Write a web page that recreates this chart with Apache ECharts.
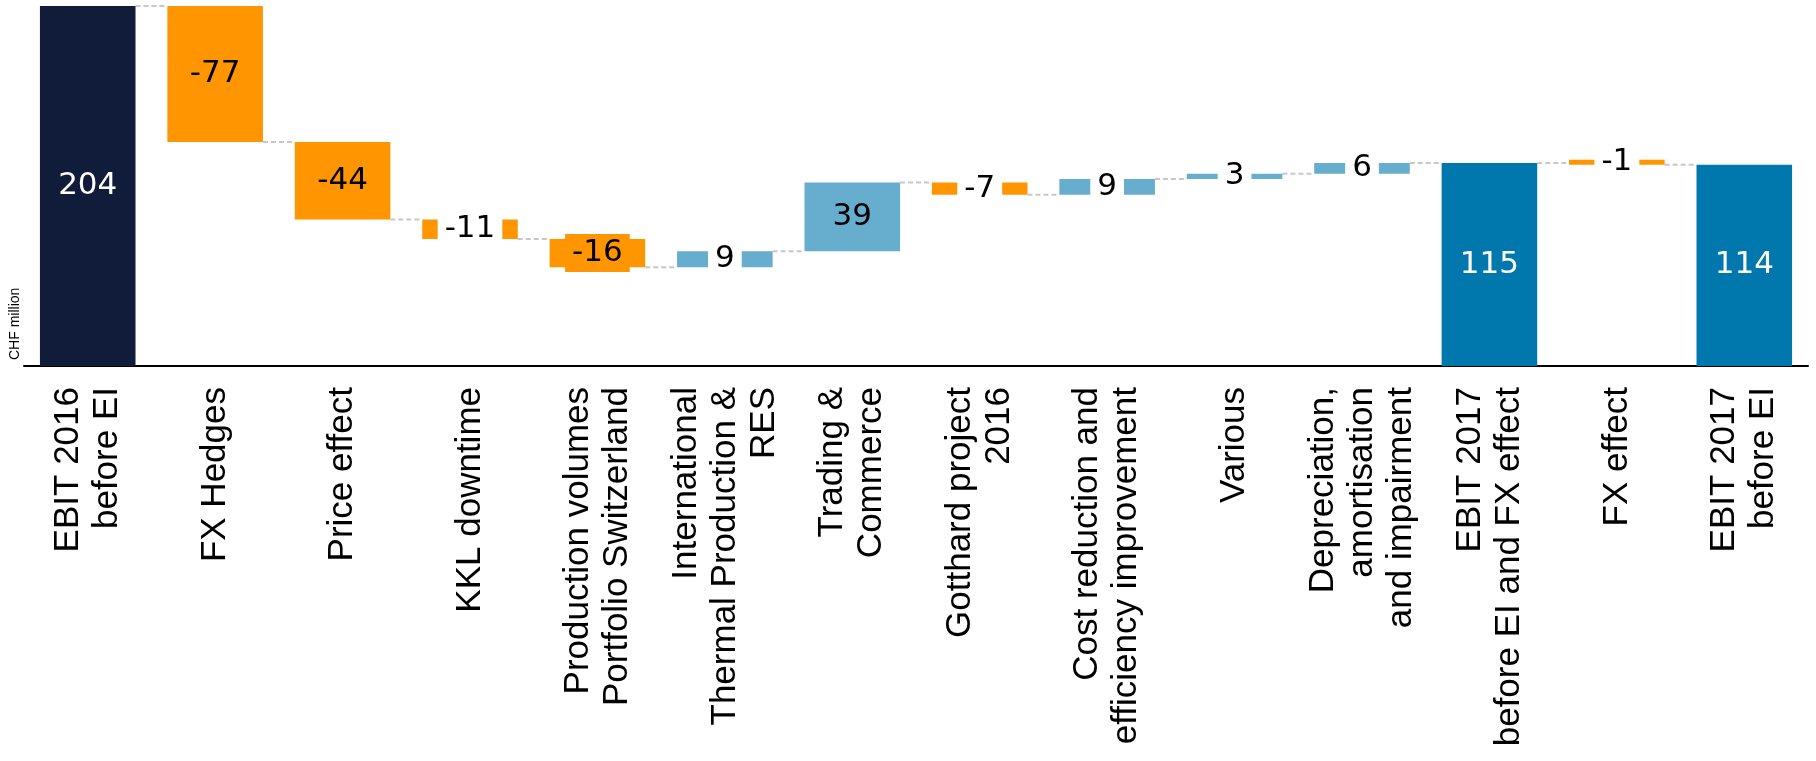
<!DOCTYPE html>
<html>
<head>
<meta charset="UTF-8">
<title>EBIT bridge</title>
<script src="https://cdn.jsdelivr.net/npm/echarts@6/dist/echarts.min.js"></script>
<style>
html,body{margin:0;padding:0;background:#fff}
#bridge{width:1816px;height:761px}
</style>
</head>
<body>
<div id="bridge"></div>
<script type="text/javascript">
// categories along the bridge
var categories = [
	'EBIT 2016\nbefore EI',
	'FX Hedges',
	'Price effect',
	'KKL downtime',
	'Production volumes\nPortfolio Switzerland',
	'International\nThermal Production &\nRES',
	'Trading &\nCommerce',
	'Gotthard project\n2016',
	'Cost reduction and\nefficiency improvement',
	'Various',
	'Depreciation,\namortisation\nand impairment',
	'EBIT 2017\nbefore EI and FX effect',
	'FX effect',
	'EBIT 2017\nbefore EI'
];
// CHF million, totals are absolute, the rest are changes
var changes = [204, -77, -44, -11, -16, 9, 39, -7, 9, 3, 6, 115, -1, 114];
var isTotal = [true, false, false, false, false, false, false, false, false, false, false, true, false, true];

var NAVY = '#111c3b', BLUE = '#0078ad', LIGHT = '#67adce', ORANGE = '#ff9500';
var BAR = 0.75;

// work out the floating bars
var base = [], height = [], level = [];
var run = 0;
for (var i = 0; i < changes.length; i++) {
	var v = changes[i];
	if (isTotal[i]) {
		base.push(0); height.push(v); run = v;
	} else if (v < 0) {
		base.push(run + v); height.push(-v); run += v;
	} else {
		base.push(run); height.push(v); run += v;
	}
	level.push(run);
}

var barData = height.map(function (h, i) {
	var v = changes[i];
	var color = isTotal[i] ? (i === 0 ? NAVY : BLUE) : (v < 0 ? ORANGE : LIGHT);
	var lbl = { formatter: String(v), color: isTotal[i] ? '#fff' : '#000' };
	var a = Math.abs(v);
	if (!isTotal[i] && a < 13) lbl.backgroundColor = '#fff';       // small bars: label cuts the bar
	else if (!isTotal[i] && a < 20) lbl.backgroundColor = color;   // medium: label box in bar colour
	return { value: h, itemStyle: { color: color }, label: lbl };
});

var links = [];
for (var j = 0; j < level.length - 1; j++) links.push([j, level[j]]);

var chart = echarts.init(document.getElementById('bridge'));
chart.setOption({
	animation: false,
	grid: { left: 24, right: 8, top: 6, bottom: 395, containLabel: false, outerBoundsMode: 'none' },
	xAxis: {
		type: 'category',
		data: categories,
		axisLine: { lineStyle: { color: '#000', width: 2 } },
		axisTick: { show: false },
		axisLabel: {
			interval: 0, rotate: 90, margin: 21,
			fontFamily: 'Liberation Sans', fontSize: 35, lineHeight: 39, color: '#000'
		}
	},
	yAxis: {
		type: 'value', min: 0, max: 204, offset: 2,
		name: 'CHF million', nameLocation: 'start', nameRotate: 90, nameGap: -6,
		nameTextStyle: { fontFamily: 'Liberation Sans', fontSize: 14, color: '#000', align: 'left', verticalAlign: 'bottom' },
		axisLine: { show: false }, axisTick: { show: false },
		axisLabel: { show: false }, splitLine: { show: false }
	},
	series: [
		{
			type: 'bar', stack: 'w', barWidth: (BAR * 100) + '%', silent: true,
			itemStyle: { color: 'transparent' },
			data: base
		},
		{
			type: 'bar', stack: 'w', barWidth: (BAR * 100) + '%', barMinHeight: 5,
			label: {
				show: true, position: 'inside',
				fontFamily: 'DejaVu Sans', fontSize: 31, lineHeight: 38, padding: [0, 7]
			},
			data: barData
		},
		{
			// dashed connectors between bars
			type: 'custom', silent: true, z: 1,
			data: links,
			renderItem: function (params, api) {
				var p = api.coord([api.value(0), api.value(1)]);
				var band = api.size([1, 0])[0];
				return {
					type: 'line',
					shape: { x1: p[0] + band * BAR / 2, y1: p[1], x2: p[0] + band - band * BAR / 2, y2: p[1] },
					style: { stroke: '#c8c8c8', lineWidth: 2, lineDash: [5, 3] }
				};
			}
		}
	]
});
</script>
</body>
</html>
